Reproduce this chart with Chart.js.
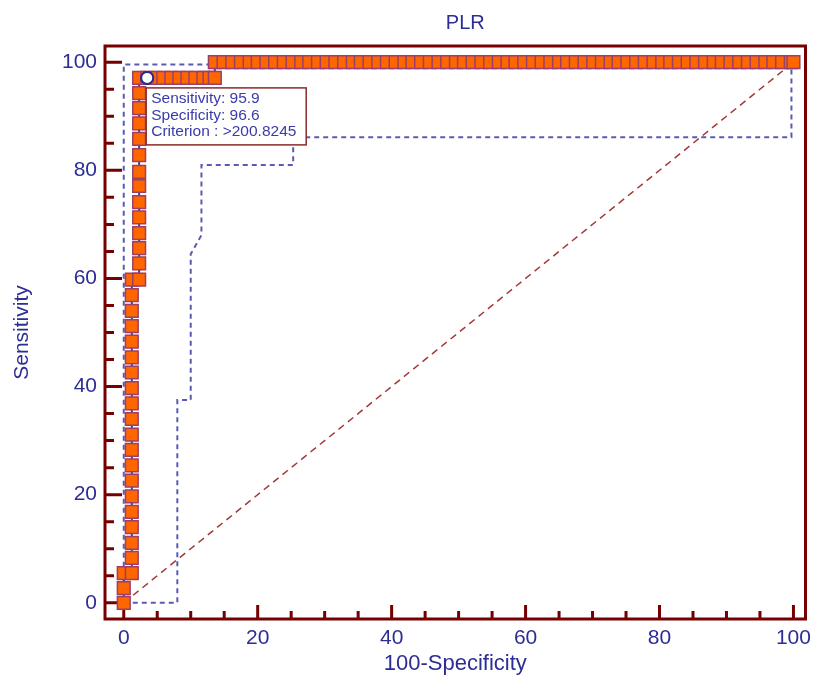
<!DOCTYPE html>
<html lang="en">
<head>
<meta charset="UTF-8">
<title>PLR ROC curve</title>
<script src="https://cdn.jsdelivr.net/npm/chart.js"></script>
<style>
  html, body { margin: 0; padding: 0; background: #fff; }
</style>
</head>
<body>
<canvas id="rocChart" width="816" height="680"></canvas>
<script>
// labels
const chartTitle = "PLR";
const xTitle = "100-Specificity";
const yTitle = "Sensitivity";
const majorTicks = [0, 20, 40, 60, 80, 100];
const minorTicks = [5, 10, 15, 25, 30, 35, 45, 50, 55, 65, 70, 75, 85, 90, 95];

// ROC curve points (100-specificity, sensitivity)
const rocFpr = [
  0, 0, 0,
  1.2, 1.2, 1.2, 1.2, 1.2, 1.2, 1.2, 1.2, 1.2, 1.2, 1.2, 1.2, 1.2, 1.2, 1.2, 1.2, 1.2, 1.2, 1.2, 1.2,
  2.3, 2.3, 2.3, 2.3, 2.3, 2.3, 2.3, 2.3, 2.3, 2.3, 2.3, 2.3, 2.3, 2.3,
  3.5, 4.7, 5.9, 7.1, 8.3, 9.5, 10.7, 11.9, 12.8, 13.6,
  13.6, 14.9, 16.2, 17.5, 18.8, 20.0, 21.3, 22.6, 23.9, 25.2, 26.5, 27.7, 29.0, 30.3, 31.6, 32.9,
  34.2, 35.4, 36.7, 38.0, 39.3, 40.6, 41.9, 43.1, 44.4, 45.7, 47.0, 48.3, 49.6, 50.8, 52.1, 53.4,
  54.7, 56.0, 57.3, 58.5, 59.8, 61.1, 62.4, 63.7, 65.0, 66.2, 67.5, 68.8, 70.1, 71.4, 72.7, 73.9,
  75.2, 76.5, 77.8, 79.1, 80.4, 81.6, 82.9, 84.2, 85.5, 86.8, 88.1, 89.3, 90.6, 91.9, 93.2, 94.5,
  95.8, 97.0, 98.3, 99.6, 100
];
const rocSens = [
  0, 2.7, 5.5,
  5.5, 8.3, 11.1, 14.0, 16.8, 19.7, 22.6, 25.4, 28.3, 31.1, 34.0, 36.9, 39.7, 42.6, 45.4, 48.3, 51.2, 54.0, 56.9, 59.8,
  59.8, 62.8, 65.6, 68.4, 71.3, 74.1, 77.1, 79.7, 82.8, 85.8, 88.7, 91.5, 94.3, 97.1,
  97.1, 97.1, 97.1, 97.1, 97.1, 97.1, 97.1, 97.1, 97.1, 97.1,
  100, 100, 100, 100, 100, 100, 100, 100, 100, 100, 100, 100, 100, 100, 100, 100,
  100, 100, 100, 100, 100, 100, 100, 100, 100, 100, 100, 100, 100, 100, 100, 100,
  100, 100, 100, 100, 100, 100, 100, 100, 100, 100, 100, 100, 100, 100, 100, 100,
  100, 100, 100, 100, 100, 100, 100, 100, 100, 100, 100, 100, 100, 100, 100, 100,
  100, 100, 100, 100, 100
];

// 95% confidence bounds
const upperFpr = [0, 0, 12.8, 12.8, 100];
const upperSens = [0, 99.6, 99.6, 100, 100];
const lowerFpr = [0, 8, 8, 10, 10, 11.6, 11.6, 25.3, 25.3, 99.7, 99.7];
const lowerSens = [0, 0, 37.5, 37.5, 64.5, 68, 81, 81, 86.1, 86.1, 100];

// reference diagonal
const diagFpr = [0, 100];
const diagSens = [0, 100];

// optimal cut-off
const cutFpr = [3.5];
const cutSens = [97.1];
const cutLines = ["Sensitivity: 95.9", "Specificity: 96.6", "Criterion : >200.8245"];

const toPts = (xs, ys) => xs.map((x, i) => ({ x: x, y: ys[i] }));

const textBlue = '#2d2d96';
const frameRed = '#760000';
const fontFam = "'Liberation Sans', Arial, sans-serif";

// frame, inward ticks, title and the cut-off box
const decor = {
  id: 'decor',
  beforeDatasetsDraw(chart) {
    const { ctx, chartArea: a, scales: { x, y } } = chart;
    ctx.save();
    ctx.strokeStyle = frameRed;
    ctx.lineWidth = 3;
    ctx.beginPath();
    majorTicks.forEach(v => {
      const px = x.getPixelForValue(v);
      ctx.moveTo(px, a.bottom); ctx.lineTo(px, a.bottom - 14);
      const py = y.getPixelForValue(v);
      ctx.moveTo(a.left, py); ctx.lineTo(a.left + 17, py);
    });
    minorTicks.forEach(v => {
      const px = x.getPixelForValue(v);
      ctx.moveTo(px, a.bottom); ctx.lineTo(px, a.bottom - 8);
      const py = y.getPixelForValue(v);
      ctx.moveTo(a.left, py); ctx.lineTo(a.left + 9, py);
    });
    ctx.stroke();
    ctx.strokeRect(a.left, a.top, a.right - a.left, a.bottom - a.top);
    ctx.restore();
  },
  afterDraw(chart) {
    const { ctx, chartArea: a, scales: { x, y } } = chart;
    ctx.save();
    // title
    ctx.fillStyle = textBlue;
    ctx.font = '20px ' + fontFam;
    ctx.textAlign = 'center';
    ctx.textBaseline = 'middle';
    ctx.fillText(chartTitle, (a.left + a.right) / 2 + 10, 23);

    // cut-off box hangs below the highlighted point
    const cx = x.getPixelForValue(cutFpr[0]);
    const cy = y.getPixelForValue(cutSens[0]);
    const bx = cx - 1, by = cy + 10, bw = 160, bh = 57;
    ctx.fillStyle = '#fff';
    ctx.fillRect(bx, by, bw, bh);
    ctx.strokeStyle = '#8a2b2b';
    ctx.lineWidth = 1.5;
    ctx.strokeRect(bx, by, bw, bh);
    ctx.fillStyle = '#3b3bab';
    ctx.font = '15.5px ' + fontFam;
    ctx.textAlign = 'left';
    [11, 28, 44].forEach((dy, i) => ctx.fillText(cutLines[i], bx + 5, by + dy));

    // redraw the cut-off marker above the box edge
    ctx.beginPath();
    ctx.arc(cx, cy, 6, 0, Math.PI * 2);
    ctx.fillStyle = '#fff';
    ctx.fill();
    ctx.strokeStyle = '#2b2b8a';
    ctx.lineWidth = 2;
    ctx.stroke();
    ctx.restore();
  }
};

new Chart(document.getElementById('rocChart'), {
  type: 'scatter',
  data: {
    datasets: [
      {
        label: 'cut-off',
        data: toPts(cutFpr, cutSens),
        pointStyle: 'circle',
        pointRadius: 6,
        pointBackgroundColor: '#fff',
        pointBorderColor: '#2b2b8a',
        pointBorderWidth: 2,
        order: 0
      },
      {
        label: 'ROC',
        data: toPts(rocFpr, rocSens),
        showLine: true,
        borderColor: '#3a3aa0',
        borderWidth: 2,
        pointStyle: 'rect',
        pointRadius: 9,
        pointBackgroundColor: '#ff6600',
        pointBorderColor: '#9a3f6a',
        pointBorderWidth: 1.5,
        order: 1
      },
      {
        label: 'upper',
        data: toPts(upperFpr, upperSens),
        showLine: true,
        borderColor: '#5a5ab4',
        borderWidth: 2,
        borderDash: [5, 4],
        pointRadius: 0,
        order: 2
      },
      {
        label: 'lower',
        data: toPts(lowerFpr, lowerSens),
        showLine: true,
        borderColor: '#5a5ab4',
        borderWidth: 2,
        borderDash: [5, 4],
        pointRadius: 0,
        order: 2
      },
      {
        label: 'diagonal',
        data: toPts(diagFpr, diagSens),
        showLine: true,
        borderColor: '#a33a3a',
        borderWidth: 1.5,
        borderDash: [7, 5],
        pointRadius: 0,
        order: 3
      }
    ]
  },
  options: {
    responsive: false,
    animation: false,
    devicePixelRatio: 1,
    layout: { padding: { top: 46, right: 9, bottom: 0, left: 0 } },
    plugins: {
      legend: { display: false },
      tooltip: { enabled: false }
    },
    scales: {
      x: {
        type: 'linear',
        min: -2.8,
        max: 101.8,
        afterBuildTicks: s => { s.ticks = majorTicks.map(v => ({ value: v })); },
        afterFit: s => { s.height = 61; },
        grid: { display: false },
        border: { display: false },
        ticks: { color: textBlue, font: { family: fontFam, size: 21 }, padding: -1 },
        title: {
          display: true,
          text: xTitle,
          color: textBlue,
          font: { family: fontFam, size: 22 },
          padding: { top: 0, bottom: 3 }
        }
      },
      y: {
        type: 'linear',
        min: -3,
        max: 103,
        afterBuildTicks: s => { s.ticks = majorTicks.map(v => ({ value: v })); },
        afterFit: s => { s.width = 105; },
        grid: { display: false },
        border: { display: false },
        ticks: { color: textBlue, font: { family: fontFam, size: 21 }, padding: 0 },
        title: {
          display: true,
          text: yTitle,
          color: textBlue,
          font: { family: fontFam, size: 21 },
          padding: { top: 10, bottom: 0 }
        }
      }
    }
  },
  plugins: [decor]
});
</script>
</body>
</html>
